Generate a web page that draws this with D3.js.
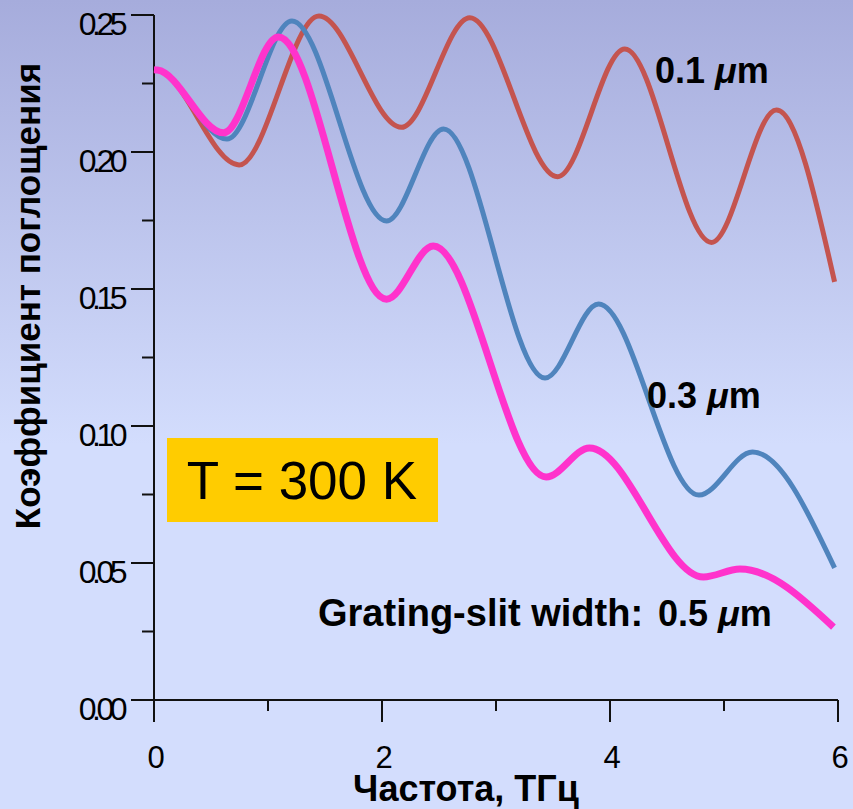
<!DOCTYPE html>
<html>
<head>
<meta charset="utf-8">
<script src="https://cdn.jsdelivr.net/npm/d3@7"></script>
<style>
  body { margin: 0; }
  svg { display: block; font-family: Arial, "Liberation Sans", sans-serif; }
</style>
</head>
<body>
<div id="chart"></div>
<script>
const width = 853;
const height = 809;

// frequency (THz) / absorption coefficient at the turning points
const freq01 = [0, 0.03, 0.746, 1.447, 2.17, 2.77, 3.54, 4.13, 4.89, 5.46, 5.97];
const abs01 = [0.230, 0.2299, 0.1953, 0.2496, 0.209, 0.249, 0.191, 0.2376, 0.167, 0.2153, 0.1526];

const freq03 = [0, 0.03, 0.64, 1.21, 2.04, 2.54, 3.43, 3.90, 4.78, 5.25, 5.97];
const abs03 = [0.230, 0.2299, 0.2047, 0.2478, 0.1748, 0.2084, 0.1175, 0.1445, 0.0748, 0.0905, 0.0482];

const freq05 = [0, 0.03, 0.61, 1.09, 2.04, 2.45, 3.44, 3.82, 4.82, 5.14, 5.96];
const abs05 = [0.230, 0.2299, 0.207, 0.242, 0.1463, 0.1657, 0.0814, 0.092, 0.0449, 0.0478, 0.0266];

const xTicks = [0, 2, 4, 6];
const yTicks = [0.00, 0.05, 0.10, 0.15, 0.20, 0.25];

const svg = d3.select("#chart")
    .append("svg")
    .attr("width", width)
    .attr("height", height);

const defs = svg.append("defs");
const grad = defs.append("linearGradient")
    .attr("id", "bg")
    .attr("x1", 0).attr("y1", 0)
    .attr("x2", 0).attr("y2", 1);
grad.append("stop").attr("offset", "0%").attr("stop-color", "#a6acdc");
grad.append("stop").attr("offset", "55%").attr("stop-color", "#d3ddfd");
grad.append("stop").attr("offset", "100%").attr("stop-color", "#d3ddfd");

svg.append("rect")
    .attr("width", width)
    .attr("height", height)
    .attr("fill", "url(#bg)");

const x = d3.scaleLinear().domain([0, 6]).range([154, 838]);
const y = d3.scaleLinear().domain([0, 0.25]).range([700, 15]);

// temperature box
svg.append("rect")
    .attr("x", 167).attr("y", 438)
    .attr("width", 271).attr("height", 84)
    .attr("fill", "#ffcc00");
svg.append("text")
    .attr("x", 302).attr("y", 499)
    .attr("text-anchor", "middle")
    .attr("font-size", 53)
    .attr("fill", "#000")
    .text("T = 300 K");

// y axis
const yAxis = svg.append("g").attr("transform", `translate(${x(0)},0)`);
yAxis.append("line")
    .attr("y1", y(0.25)).attr("y2", y(0))
    .attr("stroke", "#111").attr("stroke-width", 2);
yAxis.selectAll(".ymin")
    .data(d3.range(0.025, 0.25, 0.05))
    .enter().append("line")
    .attr("x1", -12).attr("x2", 0)
    .attr("y1", d => y(d)).attr("y2", d => y(d))
    .attr("stroke", "#111").attr("stroke-width", 2);
yAxis.selectAll(".ymaj")
    .data(yTicks)
    .enter().append("line")
    .attr("x1", -23).attr("x2", 0)
    .attr("y1", d => y(d)).attr("y2", d => y(d))
    .attr("stroke", "#111").attr("stroke-width", 2);
yAxis.selectAll(".ylab")
    .data(yTicks)
    .enter().append("text")
    .attr("x", -31)
    .attr("y", d => y(d) + 20)
    .attr("text-anchor", "end")
    .attr("font-size", 32)
    .attr("letter-spacing", "-4.5px")
    .attr("fill", "#000")
    .text(d => d.toFixed(2));

// x axis
const xAxis = svg.append("g").attr("transform", `translate(0,${y(0)})`);
xAxis.append("line")
    .attr("x1", x(0)).attr("x2", x(6))
    .attr("stroke", "#111").attr("stroke-width", 2);
xAxis.selectAll(".xmin")
    .data([1, 3, 5])
    .enter().append("line")
    .attr("x1", d => x(d)).attr("x2", d => x(d))
    .attr("y1", 0).attr("y2", 11)
    .attr("stroke", "#111").attr("stroke-width", 2);
xAxis.selectAll(".xmaj")
    .data(xTicks)
    .enter().append("line")
    .attr("x1", d => x(d)).attr("x2", d => x(d))
    .attr("y1", 0).attr("y2", 22)
    .attr("stroke", "#111").attr("stroke-width", 2);
xAxis.selectAll(".xlab")
    .data(xTicks)
    .enter().append("text")
    .attr("x", d => x(d) + 2)
    .attr("y", 68)
    .attr("text-anchor", "middle")
    .attr("font-size", 31)
    .attr("fill", "#000")
    .text(d => d);

// curves
const line = d3.line()
    .x(d => x(d[0]))
    .y(d => y(d[1]))
    .curve(d3.curveMonotoneX);

const series = [
    { f: freq01, a: abs01, color: "#c4544f", w: 5 },
    { f: freq03, a: abs03, color: "#4f84bd", w: 5 },
    { f: freq05, a: abs05, color: "#ff33cc", w: 7 }
];

series.forEach(s => {
    svg.append("path")
        .datum(d3.zip(s.f, s.a))
        .attr("fill", "none")
        .attr("stroke", s.color)
        .attr("stroke-width", s.w)
        .attr("stroke-linejoin", "round")
        .attr("d", line);
});

// labels
function muLabel(xp, yp, pre) {
    const t = svg.append("text")
        .attr("x", xp).attr("y", yp)
        .attr("font-size", 36)
        .attr("font-weight", "bold")
        .attr("fill", "#000");
    t.append("tspan").text(pre);
    t.append("tspan").attr("font-style", "italic").text("\u03bc");
    t.append("tspan").text("m");
}
muLabel(655, 83, "0.1 ");
muLabel(647, 408, "0.3 ");
muLabel(658, 626, "0.5 ");
svg.append("text")
    .attr("x", 318).attr("y", 626)
    .attr("font-size", 38)
    .attr("font-weight", "bold")
    .attr("fill", "#000")
    .text("Grating-slit width:");

svg.append("text")
    .attr("x", 466).attr("y", 801)
    .attr("text-anchor", "middle")
    .attr("font-size", 36)
    .attr("font-weight", "bold")
    .attr("fill", "#000")
    .text("Частота, ТГц");

svg.append("text")
    .attr("transform", "translate(40,296) rotate(-90)")
    .attr("text-anchor", "middle")
    .attr("font-size", 35)
    .attr("font-weight", "bold")
    .attr("fill", "#000")
    .text("Коэффициент поглощения");
</script>
</body>
</html>
